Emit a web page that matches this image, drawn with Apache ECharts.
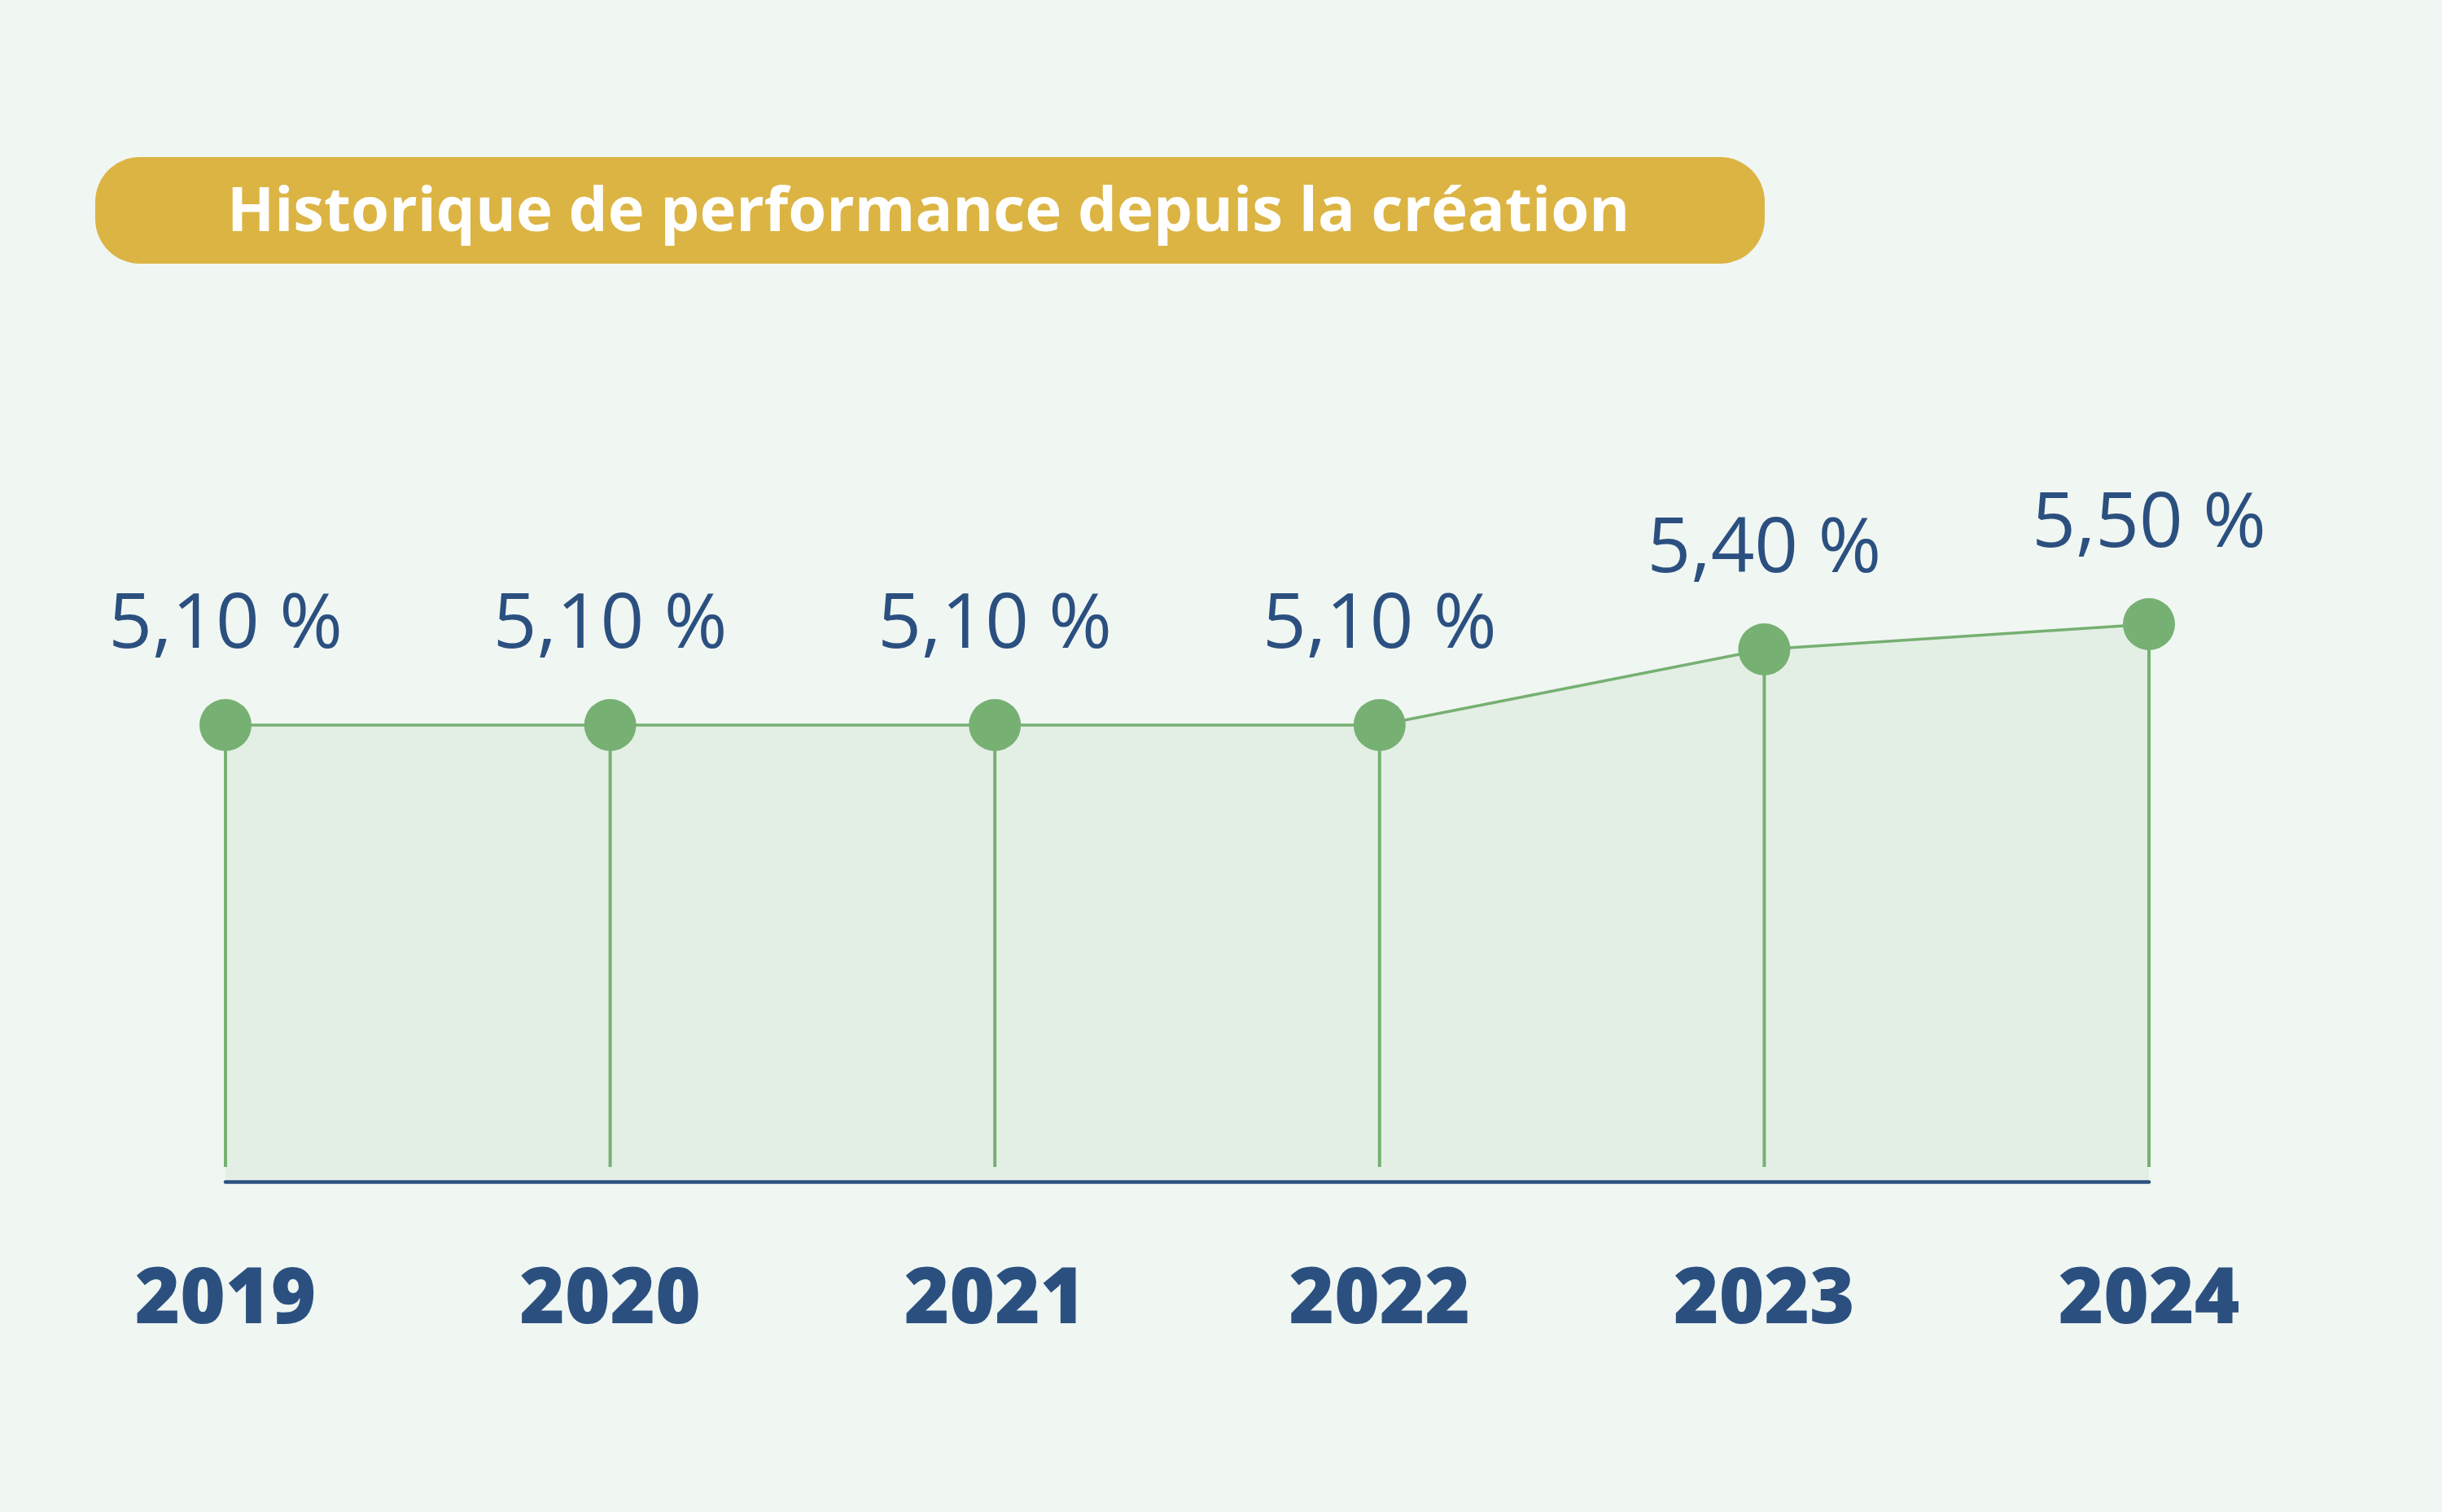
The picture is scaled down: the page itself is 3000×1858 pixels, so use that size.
<!DOCTYPE html>
<html>
<head>
<meta charset="utf-8">
<script src="https://cdn.jsdelivr.net/npm/echarts@6/dist/echarts.min.js"></script>
<style>
  html, body { margin: 0; padding: 0; background: #f0f6f2; }
  #chart { width: 3000px; height: 1858px; }
</style>
</head>
<body>
<div id="chart"></div>
<script>
const titleText = 'Historique de performance depuis la création';
const years = ['2019', '2020', '2021', '2022', '2023', '2024'];
const performance = [5.10, 5.10, 5.10, 5.10, 5.40, 5.50];
const yMin = 3.29;
const yMax = 5.6;

const green = '#76b072';
const blue = '#2b5080';

const chart = echarts.init(document.getElementById('chart'), null, { renderer: 'canvas' });

function fmt(v) {
  return v.toFixed(2).replace('.', ',') + ' %';
}

const option = {
  backgroundColor: '#f0f6f2',
  animation: false,
  graphic: [
    {
      type: 'rect',
      shape: { x: 117, y: 193, width: 2051, height: 131, r: 55 },
      style: { fill: '#dcb443' },
      z: 10
    },
    {
      type: 'text',
      x: 279,
      y: 262,
      style: {
        text: titleText,
        fill: '#ffffff',
        font: 'bold 76px "Open Sans", sans-serif',
        textVerticalAlign: 'middle',
        textAlign: 'left'
      },
      z: 11
    }
  ],
  grid: { left: 277, right: 360, top: 736, bottom: 406, containLabel: false },
  xAxis: {
    type: 'category',
    data: years,
    boundaryGap: false,
    axisLine: { show: true, lineStyle: { color: blue, width: 4.5 } },
    axisTick: { show: false },
    splitLine: { show: false },
    axisLabel: {
      color: blue,
      fontFamily: '"Open Sans", sans-serif',
      fontWeight: 800,
      fontSize: 95,
      lineHeight: 96,
      margin: 99
    },
    z: 5
  },
  yAxis: {
    type: 'value',
    min: yMin,
    max: yMax,
    show: false,
    splitLine: { show: false }
  },
  series: [
    {
      type: 'line',
      z: 3,
      data: performance,
      symbol: 'circle',
      symbolSize: 64,
      showAllSymbol: true,
      lineStyle: { color: green, width: 3.5 },
      itemStyle: { color: green },
      areaStyle: { color: '#e3efe5', opacity: 1, origin: 'start' },
      label: {
        show: true,
        position: 'top',
        distance: 42,
        formatter: p => fmt(p.value),
        color: blue,
        fontFamily: '"Open Sans", sans-serif',
        fontWeight: 400,
        fontSize: 94,
        lineHeight: 96
      }
    },
    {
      type: 'custom',
      z: 4,
      silent: true,
      data: performance.map((v, i) => [i, v]),
      renderItem: function (params, api) {
        const top = api.coord([api.value(0), api.value(1)]);
        const bottom = api.coord([api.value(0), yMin]);
        return {
          type: 'line',
          shape: { x1: top[0], y1: top[1] + 30, x2: bottom[0], y2: bottom[1] - 18 },
          style: { stroke: green, lineWidth: 4 }
        };
      }
    }
  ]
};

chart.setOption(option);
</script>
</body>
</html>
